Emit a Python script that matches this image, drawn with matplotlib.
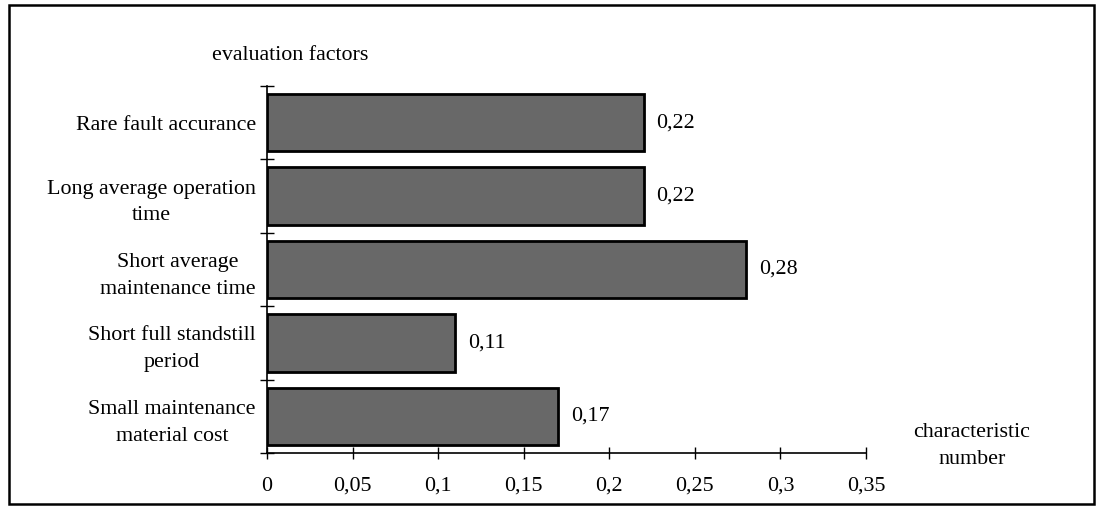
import matplotlib
matplotlib.use("Agg")
import matplotlib.pyplot as plt
from matplotlib.patches import Rectangle
import numpy as np

categories = ["Rare fault accurance", "Long average operation\ntime",
              "Short average\nmaintenance time", "Short full standstill\nperiod",
              "Small maintenance\nmaterial cost"]
values = [0.22, 0.22, 0.28, 0.11, 0.17]
value_labels = ["0,22", "0,22", "0,28", "0,11", "0,17"]
xticks = [0, 0.05, 0.1, 0.15, 0.2, 0.25, 0.3, 0.35]
xtick_labels = ["0", "0,05", "0,1", "0,15", "0,2", "0,25", "0,3", "0,35"]

plt.rcParams['font.family'] = ['Liberation Serif', 'DejaVu Serif']
FS = 15.8

fig = plt.figure(figsize=(10.96, 5.11), dpi=100)
fig.patch.set_facecolor('white')
fig.add_artist(Rectangle((0.008, 0.014), 0.990, 0.976, transform=fig.transFigure,
                         fill=False, edgecolor='black', linewidth=1.8))

ax = fig.add_axes([0.2436, 0.1135, 0.5466, 0.7182])
y = np.arange(len(categories))
ax.barh(y, values, height=0.78, color='#686868', edgecolor='black', linewidth=2)
for yi, v, lab in zip(y, values, value_labels):
    ax.text(v + 0.0075, yi, lab, va='center', ha='left', fontsize=FS)

ax.set_xlim(0, 0.35)
ax.set_ylim(len(categories) - 0.5, -0.5)
ax.set_yticks(y)
ax.set_yticklabels(categories, fontsize=FS, multialignment='center', linespacing=1.55)
ax.tick_params(axis='y', length=0, pad=8)
ax.set_yticks(np.arange(-0.5, len(categories)), minor=True)
ax.tick_params(axis='y', which='minor', direction='inout', length=10, width=1)
ax.set_xticks(xticks)
ax.set_xticklabels(xtick_labels, fontsize=FS)
ax.tick_params(axis='x', direction='inout', length=8, width=1, pad=13)

for s in ['top', 'right']:
    ax.spines[s].set_visible(False)
ax.spines['left'].set_linewidth(1.2)
ax.spines['bottom'].set_linewidth(1.2)

fig.text(290 / 1096, 1 - 55 / 511, "evaluation factors", ha='center', va='center', fontsize=FS)
fig.text(972 / 1096, 1 - 446 / 511, "characteristic\nnumber", ha='center', va='center',
         fontsize=FS, linespacing=1.55)

fig.savefig("out.png", dpi=100)
